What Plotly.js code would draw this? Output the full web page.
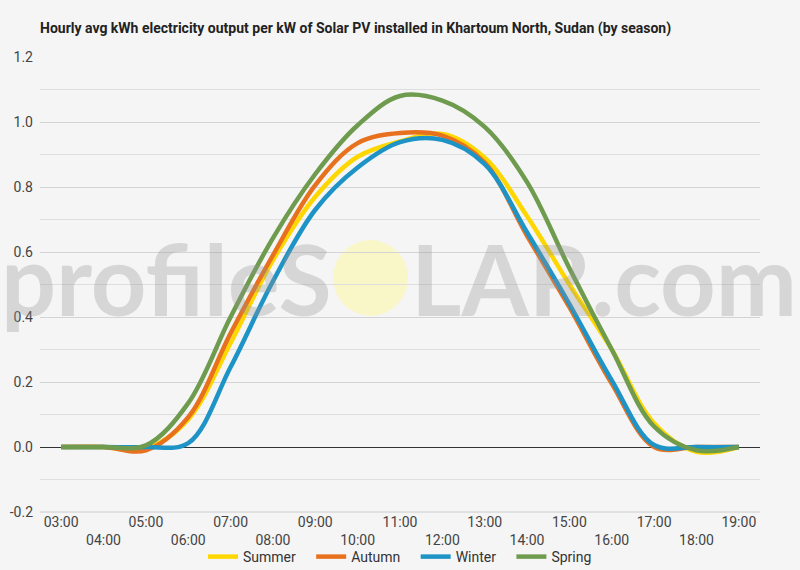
<!DOCTYPE html>
<html>
<head>
<meta charset="utf-8">
<script src="https://cdn.plot.ly/plotly-3.0.1.min.js"></script>
<style>
html,body{margin:0;padding:0;background:#f5f5f5;}
#chart{width:800px;height:570px;}
</style>
</head>
<body>
<div id="chart"></div>
<script>
const hours = ["03:00","04:00","05:00","06:00","07:00","08:00","09:00","10:00","11:00","12:00","13:00","14:00","15:00","16:00","17:00","18:00","19:00"];
const summer = [0,0,-0.005,0.085,0.32,0.575,0.77,0.893,0.94,0.963,0.89,0.71,0.50,0.30,0.073,-0.015,0];
const autumn = [0,0,-0.01,0.092,0.35,0.59,0.806,0.935,0.966,0.958,0.875,0.65,0.43,0.195,0.0,0,0];
const winter = [0,0,0,0.012,0.246,0.51,0.73,0.86,0.938,0.945,0.87,0.66,0.44,0.205,0.006,0,0];
const spring = [0,0,0.005,0.135,0.40,0.643,0.84,0.99,1.08,1.066,0.985,0.815,0.55,0.30,0.063,-0.01,0];
const seriesNames = ["Summer","Autumn","Winter","Spring"];
const seriesColors = ["#FFD700","#E8711E","#1E93C6","#6E9B4E"];
const yTicks = [-0.2,0,0.2,0.4,0.6,0.8,1.0,1.2];
const yTickText = ["-0.2","0.0","0.2","0.4","0.6","0.8","1.0","1.2"];

const tickText = hours.map((h,i)=> i%2===0 ? h : "<br>"+h);
const allSeries = [summer, autumn, winter, spring];
const pad = ["\u00A0\u00A0\u00A0","\u00A0\u00A0\u00A0","\u00A0\u00A0\u00A0",""];
const traces = allSeries.map((s,i)=>({
  x: hours, y: s, type:'scatter', mode:'lines', name: seriesNames[i] + pad[i],
  line:{color:seriesColors[i], width:4.5, shape:'spline', smoothing:1}
}));

const font = "Roboto, 'Liberation Sans', sans-serif";
const wmFont = {family:"Lato, 'Open Sans', sans-serif", size:97, weight:'bold', color:'rgba(150,150,150,0.32)'};
const layout = {
  width:800, height:570,
  paper_bgcolor:'#f5f5f5', plot_bgcolor:'#f5f5f5',
  margin:{l:40, r:40, t:57, b:58},
  font:{family:font, size:14, color:'#444'},
  title:{text:'<b>Hourly avg kWh electricity output per kW of Solar PV installed in Khartoum North, Sudan (by season)</b>',
    x:40/800, xref:'container', xanchor:'left', y:1-28/570, yref:'container', yanchor:'middle',
    font:{family:font, size:14, color:'#222'}},
  xaxis:{type:'category', tickmode:'array', tickvals:hours, ticktext:tickText, automargin:false,
    showgrid:false, zeroline:false, showline:false, ticks:'', tickfont:{size:14, color:'#444'},
    range:[-0.5,16.5], fixedrange:true},
  yaxis:{range:[-0.2,1.2], tickmode:'array', tickvals:yTicks, ticktext:yTickText, automargin:false,
    showgrid:true, gridcolor:'#d4d4d4', gridwidth:1,
    minor:{dtick:0.1, tick0:0, showgrid:true, gridcolor:'#dedede', gridwidth:1},
    zeroline:true, zerolinecolor:'#333', zerolinewidth:1,
    ticks:'', tickfont:{size:14, color:'#444'}, ticklabelstandoff:6, fixedrange:true},
  showlegend:true,
  legend:{orientation:'h', x:0.5, xanchor:'center', xref:'container', y:(570-557)/570, yanchor:'middle', yref:'container',
    font:{size:14, color:'#333'}, bgcolor:'rgba(0,0,0,0)', itemwidth:30, traceorder:'normal'},
  shapes:[
    {type:'circle', xref:'paper', yref:'paper', layer:'below',
     x0:(333-40)/720, x1:(408-40)/720, y0:(512-316)/455, y1:(512-240)/455,
     fillcolor:'rgba(250,246,195,0.9)', line:{width:0}},
    {type:'line', xref:'paper', yref:'paper', x0:0, x1:1, y0:0, y1:0, layer:'below',
     line:{color:'#cccccc', width:1}}
  ],
  annotations:[
    {text:'<b>profileS</b>', xref:'paper', yref:'paper', x:(334-40)/720, xanchor:'right',
     y:(512-278)/455, yanchor:'middle', showarrow:false, font:wmFont},
    {text:'<b>LAR.com</b>', xref:'paper', yref:'paper', x:(409-40)/720, xanchor:'left',
     y:(512-278)/455, yanchor:'middle', showarrow:false, font:wmFont}
  ]
};
Plotly.newPlot('chart', traces, layout, {displayModeBar:false, staticPlot:true});
</script>
</body>
</html>
